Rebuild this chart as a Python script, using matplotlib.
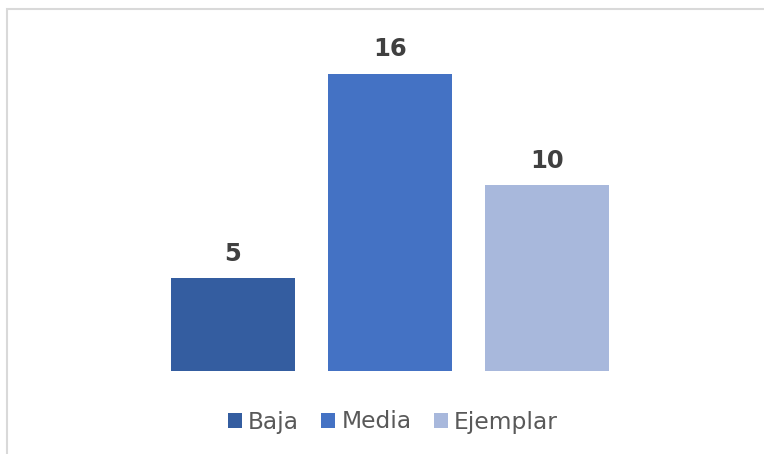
import matplotlib
matplotlib.use("Agg")
import matplotlib.pyplot as plt
from matplotlib.patches import Patch, Rectangle

categories = ["Baja", "Media", "Ejemplar"]
values = [5, 16, 10]
colors = ["#345DA0", "#4472C4", "#A8B8DC"]

W, H = 764, 454
fig = plt.figure(figsize=(W / 100, H / 100), dpi=100)
fig.patch.set_facecolor("white")

# axes placed so bars land where the reference has them
ax = fig.add_axes([76 / W, 83 / H, 628 / W, (18 * 18.58) / H])
x = list(range(len(values)))
bars = ax.bar(x, values, width=0.79, color=colors)
ax.set_xlim(-1, 3)
ax.set_ylim(0, 18)
ax.axis("off")

for xi, v in zip(x, values):
    ax.annotate(str(v), (xi, v), xytext=(0, 12.5), textcoords="offset points",
                ha="center", va="baseline", fontsize=17.5, fontweight="bold",
                color="#404040")

handles = [Patch(facecolor=c, edgecolor="none") for c in colors]
leg = fig.legend(handles, categories, loc="center", ncol=3,
                 bbox_to_anchor=(393 / W, 1 - 422 / H), frameon=False,
                 fontsize=16.8, handlelength=0.6, handleheight=0.6,
                 handletextpad=0.26, columnspacing=0.95)
for t in leg.get_texts():
    t.set_color("#595959")

# light frame visible on the top and left edges
fig.add_artist(Rectangle((6.5 / W, -0.1), 1.2, 1.1 - 8.5 / H,
                         transform=fig.transFigure, fill=False,
                         edgecolor="#D9D9D9", linewidth=1.5, clip_on=False))

fig.savefig("out.png", dpi=100)
